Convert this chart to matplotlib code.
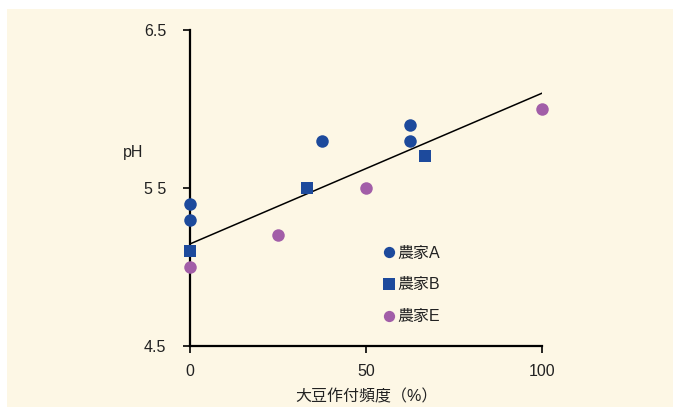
import matplotlib.pyplot as plt
from matplotlib.patches import Rectangle

plt.rcParams['font.family'] = ['Liberation Sans', 'Noto Sans CJK JP', 'DejaVu Sans']

# soybean cropping frequency (%) vs soil pH, per farmer
farmer_a_x = [0, 0, 37.5, 62.5, 62.5]
farmer_a_ph = [5.4, 5.3, 5.8, 5.9, 5.8]
farmer_b_x = [0, 33.3, 66.7]
farmer_b_ph = [5.1, 5.5, 5.7]
farmer_e_x = [0, 25, 50, 100]
farmer_e_ph = [5.0, 5.2, 5.5, 6.0]

# trend line
trend_x = [0, 100]
trend_ph = [5.146, 6.1]

series_labels = ['農家A', '農家B', '農家E']
x_ticks = [0, 50, 100]
y_ticks = [4.5, 5.5, 6.5]
y_tick_labels = ['4.5', '5 5', '6.5']

blue = '#1D4A9C'
purple = '#A25EA8'
cream = '#FDF7E5'
fs = 11.5

fig = plt.figure(figsize=(6.78, 4.07), dpi=100, facecolor='white')
fig.patches.append(Rectangle((7 / 678, 0), 666 / 678, 398 / 407,
                             transform=fig.transFigure, facecolor=cream,
                             edgecolor='none', zorder=-1))
ax = fig.add_axes([190 / 678, 61 / 407, 352 / 678, 316 / 407])
ax.set_facecolor('none')

ax.plot(trend_x, trend_ph, color='black', lw=1.1, zorder=2)
ax.plot(farmer_a_x, farmer_a_ph, 'o', color=blue, ms=9, mew=0, label=series_labels[0], zorder=3, clip_on=False)
ax.plot(farmer_b_x, farmer_b_ph, 's', color=blue, ms=9, mew=0, label=series_labels[1], zorder=3, clip_on=False)
ax.plot(farmer_e_x, farmer_e_ph, 'o', color=purple, ms=9, mew=0, label=series_labels[2], zorder=3, clip_on=False)

ax.set_xlim(0, 100)
ax.set_ylim(4.5, 6.5)
ax.set_xticks(x_ticks)
ax.set_yticks(y_ticks)
ax.set_yticklabels(y_tick_labels)
ax.tick_params(labelsize=fs, width=1.2, length=5, color='black', labelcolor='#222222')
ax.tick_params(axis='y', pad=12)
ax.tick_params(axis='x', pad=8)

for side in ['top', 'right']:
    ax.spines[side].set_visible(False)
for side in ['left', 'bottom']:
    ax.spines[side].set_linewidth(1.6)

ax.set_xlabel('大豆作付頻度（%）', fontsize=fs, color='#222222', labelpad=7)
ax.set_ylabel('pH', fontsize=fs, color='#222222', rotation=0)
ax.yaxis.set_label_coords(-0.162, 0.589)

ax.legend(loc='upper left', bbox_to_anchor=(0.53, 0.343), frameon=False,
          fontsize=fs, handlelength=0.6, handletextpad=0.2, labelspacing=1.05,
          markerscale=0.9, borderpad=0, labelcolor='#222222')

fig.savefig('out.png', dpi=100, facecolor='white')
